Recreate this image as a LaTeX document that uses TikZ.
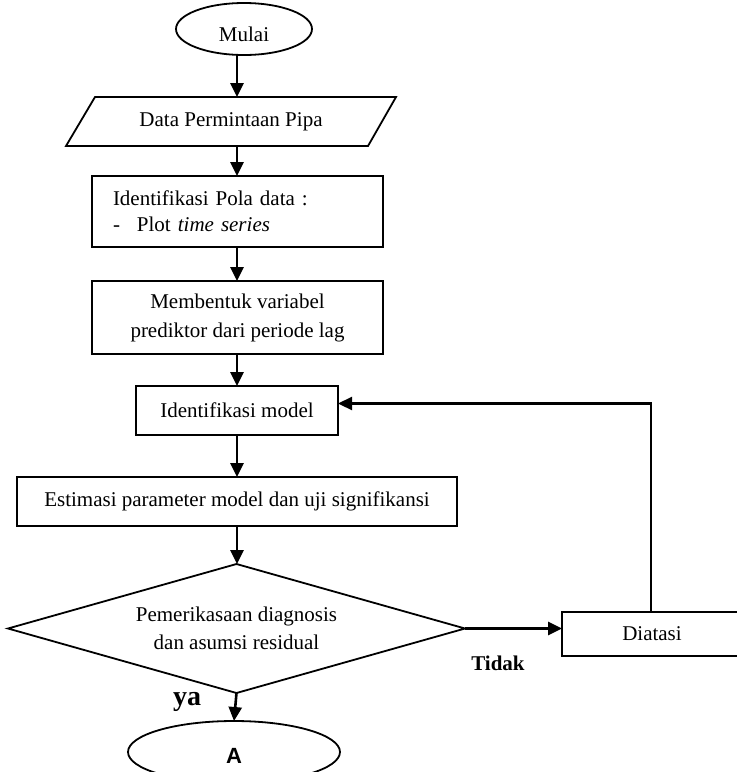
\documentclass[tikz,border=0pt]{standalone}
\usepackage{fontspec}
\setmainfont{Liberation Serif}
\newfontfamily\endsans{Liberation Sans}
\usetikzlibrary{shapes.geometric,arrows.meta,calc}
\begin{document}
\begin{tikzpicture}[x=1pt,y=-1pt,
  every node/.style={font=\fontsize{21}{26}\selectfont},
  edge/.style={line width=1.8pt},
  procbox/.style={draw, edge, rectangle, inner sep=0pt, outer sep=0pt, align=center},
  termbox/.style={draw, edge, ellipse, inner sep=0pt, outer sep=0pt},
  flow/.style={line width=2.6pt, -{Triangle[length=14pt,width=13pt]}},
  tag/.style={font=\fontsize{21}{26}\selectfont\bfseries},
]
\useasboundingbox (0,0) rectangle (737,772);
\clip (0,0) rectangle (737,772);

% main column
\coordinate (spine) at (237,0);
\coordinate (back) at (651,0);

\node[termbox, minimum width=136pt, minimum height=52pt, text height=24pt, text depth=0pt]
  (mulai) at (244,29) {Mulai};

\node[inner sep=0pt, outer sep=0pt, minimum width=330pt, minimum height=49pt]
  (data) at (231,121.5) {Data Permintaan Pipa};
\draw[edge] (data.south west) -- ([xshift=-28pt]data.south east)
  -- (data.north east) -- ([xshift=29pt]data.north west) -- cycle;

\node[procbox, minimum width=291pt, minimum height=71pt, inner xsep=21pt,
  text width=249pt, align=left, font=\fontsize{21}{26}\selectfont]
  (pola) at (237.5,211.5)
  {Identifikasi Pola data :\\\makebox[24pt][l]{-}Plot \textit{time series}};

\node[procbox, minimum width=291pt, minimum height=73pt, font=\fontsize{21}{29}\selectfont]
  (lag) at (237.5,317.5) {Membentuk variabel\\prediktor dari periode lag};

\node[procbox, minimum width=202pt, minimum height=49pt]
  (idm) at (237,410.5) {Identifikasi model};

\node[procbox, minimum width=440pt, minimum height=49pt]
  (est) at (237,501.5) {Estimasi parameter model dan uji signifikansi};

\node[draw, edge, diamond, inner sep=0pt, outer sep=0pt, shape aspect=3.54,
  minimum width=457pt, minimum height=129pt, align=center,
  font=\fontsize{21}{28}\selectfont]
  (dec) at (236.5,628.5) {Pemerikasaan diagnosis\\dan asumsi residual};

\node[procbox, minimum width=180pt, minimum height=44pt]
  (diat) at (652,634) {Diatasi};

\node[termbox, minimum width=212pt, minimum height=62pt, text height=22pt, text depth=0pt,
  font=\fontsize{22}{26}\endsans\bfseries]
  (ujung) at (234,752) {A};

% connectors
\draw[flow] (mulai.south -| spine) -- (data.north -| spine);
\draw[flow] (data.south -| spine) -- (pola.north -| spine);
\draw[flow] (pola.south -| spine) -- (lag.north -| spine);
\draw[flow] (lag.south -| spine) -- (idm.north -| spine);
\draw[flow] (idm.south -| spine) -- (est.north -| spine);
\draw[flow] (est.south -| spine) -- (dec.north -| spine);
\draw[flow] (dec.south) -- (ujung.north);
\draw[flow] (dec.east) -- (dec.east -| diat.west);
\draw[flow, line width=2.2pt] (diat.north -| back) |- ([yshift=7pt]idm.east);

% branch labels
\node[tag] (tidak) at (498,663) {Tidak};
\node[font=\fontsize{28}{30}\selectfont\bfseries] (ya) at (187,702) {ya};
\end{tikzpicture}
\end{document}
